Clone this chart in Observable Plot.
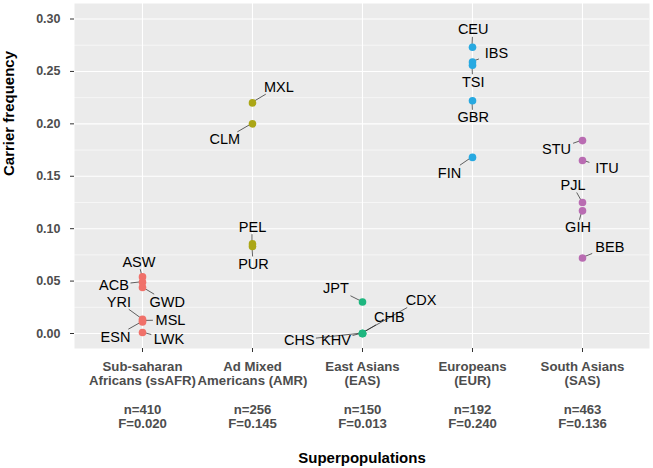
<!DOCTYPE html>
<html><head><meta charset="utf-8">
<script src="https://cdn.jsdelivr.net/npm/d3@7"></script>
<script src="https://cdn.jsdelivr.net/npm/@observablehq/plot@0.6"></script>
<style>body{margin:0;background:#fff} #chart svg{display:block}</style>
</head><body><div id="chart"></div>
<script>
// ---- data ----
const groups = ["ssAFR", "AMR", "EAS", "EUR", "SAS"];
const groupNames = ["Sub-saharan\nAfricans (ssAFR)", "Ad Mixed\nAmericans (AMR)", "East Asians\n(EAS)", "Europeans\n(EUR)", "South Asians\n(SAS)"];
const sampleSizes = [410, 256, 150, 192, 463];
const groupFreqs = ["0.020", "0.145", "0.013", "0.240", "0.136"];
const groupColors = ["#F0716A", "#ABA616", "#1EB67F", "#27A9E1", "#B96CB2"];

const popCodes   = ["ASW","ACB","GWD","YRI","MSL","ESN","LWK",
                    "MXL","CLM","PEL","PUR",
                    "JPT","CDX","CHB","CHS","KHV",
                    "CEU","IBS","TSI","GBR","FIN",
                    "STU","ITU","PJL","GIH","BEB"];
const popGroups  = ["ssAFR","ssAFR","ssAFR","ssAFR","ssAFR","ssAFR","ssAFR",
                    "AMR","AMR","AMR","AMR",
                    "EAS","EAS","EAS","EAS","EAS",
                    "EUR","EUR","EUR","EUR","EUR",
                    "SAS","SAS","SAS","SAS","SAS"];
const carrierFreqs = [0.054, 0.049, 0.044, 0.0135, 0.012, 0.011, 0.001,
                      0.220, 0.200, 0.0855, 0.083,
                      0.030, 0.000, 0.000, 0.000, 0.000,
                      0.273, 0.259, 0.256, 0.222, 0.168,
                      0.184, 0.165, 0.125, 0.117, 0.072];

const yTicks = [0, 0.05, 0.10, 0.15, 0.20, 0.25, 0.30];
const yMinorTicks = [0.025, 0.075, 0.125, 0.175, 0.225, 0.275];

// ---- label placement (pixel nudges, style only) ----
const labelOffset = {
  ASW:[-3.6,-14.7], ACB:[-28.6,3.4], GWD:[24.7,14.8], YRI:[-23.6,-17.1], MSL:[28,-0.4], ESN:[-27,15.2], LWK:[26.4,7.3],
  MXL:[26.4,-15.7], CLM:[-27.6,16], PEL:[0,-16.7], PUR:[1,18],
  JPT:[-26.5,-13.3], CDX:[58.5,-33], CHB:[26.8,-15.7], CHS:[-63.2,7], KHV:[-26.5,7],
  CEU:[0.7,-17.5], IBS:[24,-8.8], TSI:[0.7,17.1], GBR:[0.7,17], FIN:[-23,15.8],
  STU:[-26,9.2], ITU:[24.5,7.7], PJL:[-9.5,-17], GIH:[-4.5,16.9], BEB:[27.3,-10.8]
};

const table = popCodes.map((code, i) => ({code, group: popGroups[i], value: carrierFreqs[i]}));
const tickText = groups.map((g, i) => `${groupNames[i]}\n\nn=${sampleSizes[i]}\nF=${groupFreqs[i]}`);

// repel-style connector segments, positioned through Plot's scales
function segments(...args) {
  const scales = args.find(a => a && typeof a.x === "function" && typeof a.y === "function");
  const g = d3.create("svg:g").attr("stroke", "#222").attr("stroke-width", 0.7);
  for (const d of table) {
    const px = scales.x(d.group), py = scales.y(d.value);
    const [ox, oy] = labelOffset[d.code];
    const cx = px + ox, cy = py + oy;
    const hw = d.code.length * 5.2 + 1.5, hh = 7.5;
    const vx = px - cx, vy = py - cy;
    if (Math.abs(vx) <= hw && Math.abs(vy) <= hh) continue;
    const t = Math.min(vx ? hw / Math.abs(vx) : Infinity, vy ? hh / Math.abs(vy) : Infinity);
    const ex = cx + t * vx, ey = cy + t * vy;
    if (Math.hypot(px - ex, py - ey) < 4) continue;
    g.append("line").attr("x1", px).attr("y1", py).attr("x2", ex).attr("y2", ey);
  }
  return g.node();
}

const chart = Plot.plot({
  width: 653, height: 468,
  marginLeft: 74, marginRight: 4, marginTop: 3, marginBottom: 120,
  style: {fontFamily: "'Liberation Sans', Arial, sans-serif", background: "#fff", overflow: "visible"},
  x: {type: "point", domain: groups, padding: 0.6},
  y: {domain: [-0.0143, 0.3148]},
  color: {domain: groups, range: groupColors},
  marks: [
    Plot.frame({fill: "#EBEBEB", stroke: null}),
    Plot.ruleY(yMinorTicks, {stroke: "#fff", strokeWidth: 0.55}),
    Plot.ruleY(yTicks, {stroke: "#fff", strokeWidth: 1.1}),
    Plot.ruleX(groups, {stroke: "#fff", strokeWidth: 1.1}),
    Plot.axisY({ticks: yTicks, tickFormat: d3.format(".2f"), tickSize: 4, tickPadding: 10,
      fontSize: 12.5, fontWeight: "bold", fill: "#4D4D4D", stroke: "#333", label: null}),
    Plot.axisX({tickSize: 4, tickPadding: 8.3, tickFormat: d => tickText[groups.indexOf(d)],
      fontSize: 13.2, fontWeight: "bold", fill: "#4D4D4D", stroke: "#333", lineHeight: 1.08, label: null}),
    Plot.text(["Carrier frequency"], {text: d => d, frameAnchor: "left", rotate: -90, dx: -65,
      fontSize: 15, fontWeight: "bold", fill: "#000"}),
    Plot.text(["Superpopulations"], {text: d => d, frameAnchor: "bottom", dy: 114,
      fontSize: 15, fontWeight: "bold", fill: "#000"}),
    segments,
    Plot.dot(table, {x: "group", y: "value", r: 3.8, fill: "group", stroke: null}),
    ...table.map(d => Plot.text([d], {x: "group", y: "value", text: "code",
      dx: labelOffset[d.code][0], dy: labelOffset[d.code][1], fontSize: 14.5, fill: "#000"}))
  ]
});
document.getElementById("chart").appendChild(chart);
</script>
</body></html>
